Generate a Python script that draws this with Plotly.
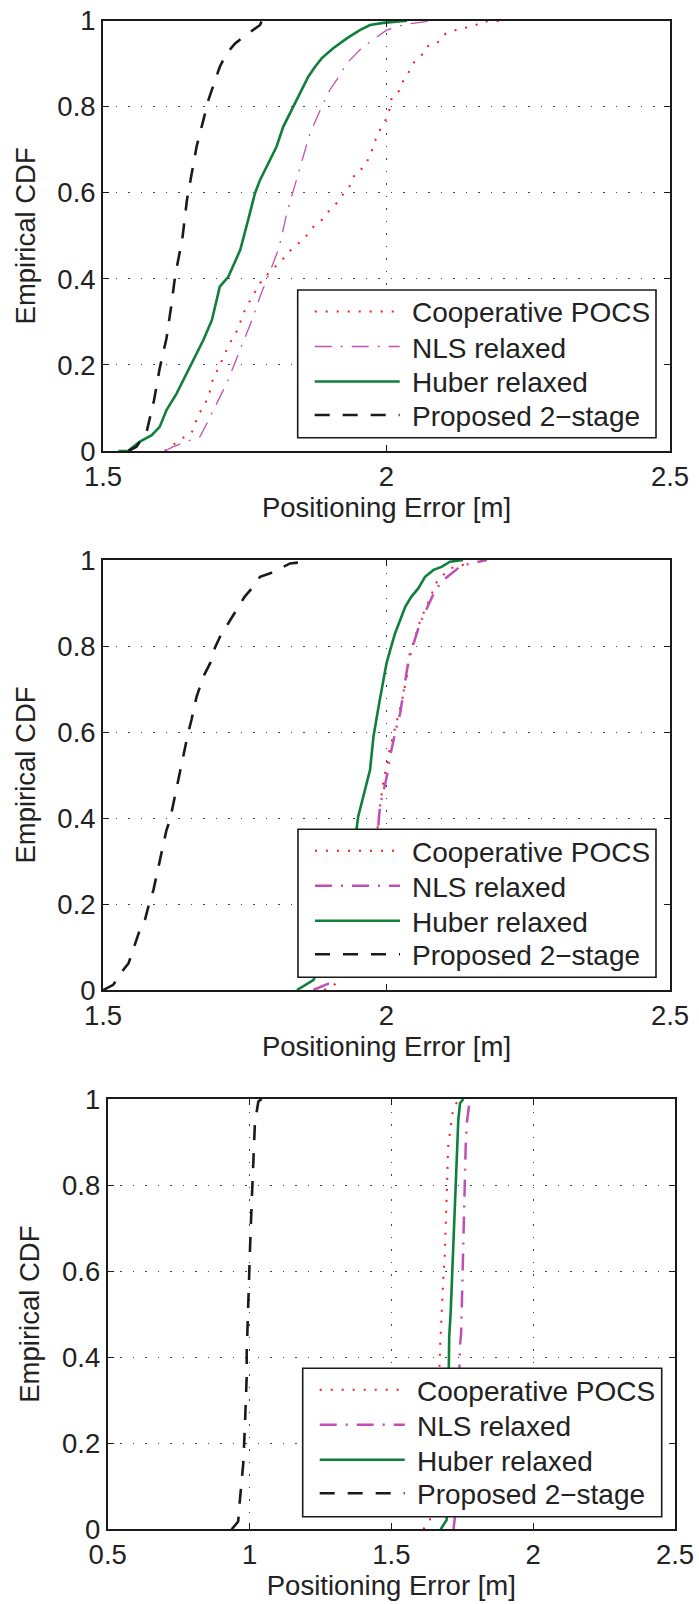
import plotly.graph_objects as go

W, H = 699, 1604

names = ["Cooperative POCS", "NLS relaxed", "Huber relaxed", "Proposed 2\u2212stage"]

# ---------------- Panel 1 ----------------
p1_pocs_x = [1.609, 1.639, 1.656, 1.668, 1.677, 1.686, 1.695, 1.706, 1.712, 1.721, 1.730, 1.739, 1.745, 1.753, 1.765, 1.777, 1.789, 1.806, 1.824, 1.836, 1.853, 1.871, 1.886, 1.900, 1.912, 1.927, 1.939, 1.944, 1.962, 1.977, 1.983, 1.992, 2.000, 2.007, 2.009, 2.024, 2.030, 2.038, 2.047, 2.062, 2.071, 2.089, 2.100, 2.115, 2.133, 2.153, 2.168, 2.212]
p1_pocs_y = [0, 0.029, 0.041, 0.084, 0.103, 0.126, 0.173, 0.196, 0.219, 0.242, 0.266, 0.285, 0.312, 0.335, 0.363, 0.390, 0.409, 0.432, 0.455, 0.475, 0.490, 0.521, 0.537, 0.560, 0.576, 0.603, 0.622, 0.645, 0.661, 0.707, 0.734, 0.754, 0.773, 0.800, 0.820, 0.839, 0.862, 0.877, 0.901, 0.920, 0.940, 0.947, 0.967, 0.975, 0.983, 0.986, 0.998, 1.0]
p1_nls_x = [1.609, 1.624, 1.648, 1.671, 1.683, 1.695, 1.706, 1.718, 1.730, 1.742, 1.753, 1.765, 1.777, 1.789, 1.800, 1.809, 1.815, 1.824, 1.836, 1.847, 1.865, 1.883, 1.900, 1.912, 1.930, 1.944, 1.956, 1.971, 1.989, 2.000, 2.024, 2.041, 2.083]
p1_nls_y = [0, 0.01, 0.022, 0.033, 0.064, 0.095, 0.126, 0.157, 0.196, 0.235, 0.273, 0.312, 0.359, 0.397, 0.436, 0.467, 0.498, 0.552, 0.607, 0.661, 0.738, 0.792, 0.839, 0.862, 0.901, 0.920, 0.936, 0.951, 0.967, 0.978, 0.988, 0.993, 1.0]
p1_huber_x = [1.527, 1.544, 1.565, 1.586, 1.600, 1.612, 1.630, 1.645, 1.659, 1.677, 1.692, 1.706, 1.721, 1.742, 1.756, 1.768, 1.777, 1.792, 1.806, 1.818, 1.830, 1.842, 1.850, 1.862, 1.874, 1.886, 1.906, 1.930, 1.953, 1.971, 1.994, 2.036]
p1_huber_y = [0, 0, 0.022, 0.037, 0.056, 0.095, 0.134, 0.173, 0.211, 0.258, 0.304, 0.382, 0.405, 0.467, 0.537, 0.599, 0.630, 0.669, 0.707, 0.754, 0.785, 0.816, 0.839, 0.870, 0.893, 0.913, 0.936, 0.959, 0.978, 0.990, 0.995, 1.0]
p1_prop_x = [1.545, 1.559, 1.577, 1.590, 1.600, 1.612, 1.621, 1.627, 1.636, 1.639, 1.648, 1.656, 1.665, 1.677, 1.686, 1.694, 1.706, 1.718, 1.733, 1.747, 1.765, 1.777, 1.780]
p1_prop_y = [0, 0.01, 0.045, 0.118, 0.192, 0.262, 0.343, 0.405, 0.467, 0.483, 0.583, 0.645, 0.707, 0.769, 0.816, 0.847, 0.893, 0.924, 0.947, 0.962, 0.978, 0.990, 1.0]

# ---------------- Panel 2 ----------------
p2_pocs_x = [1.890, 1.897, 1.912, 1.945, 1.965, 1.978, 1.986, 1.994, 2.006, 2.027, 2.036, 2.041, 2.047, 2.059, 2.074, 2.089, 2.100, 2.112, 2.130, 2.144, 2.150]
p2_pocs_y = [0, 0.004, 0.016, 0.1, 0.2, 0.3, 0.399, 0.481, 0.562, 0.671, 0.729, 0.783, 0.806, 0.857, 0.903, 0.950, 0.965, 0.981, 0.985, 0.996, 1.0]
p2_nls_x = [1.871, 1.892, 1.900, 1.940, 1.965, 1.980, 1.989, 1.994, 2.003, 2.005, 2.015, 2.024, 2.030, 2.038, 2.047, 2.059, 2.071, 2.086, 2.100, 2.118, 2.130, 2.147, 2.177]
p2_nls_y = [0, 0.012, 0.016, 0.1, 0.2, 0.3, 0.434, 0.457, 0.512, 0.535, 0.597, 0.643, 0.698, 0.760, 0.802, 0.853, 0.887, 0.930, 0.953, 0.973, 0.985, 0.992, 1.0]
p2_huber_x = [1.842, 1.853, 1.871, 1.900, 1.925, 1.940, 1.950, 1.971, 1.977, 1.986, 1.994, 2.000, 2.009, 2.015, 2.024, 2.033, 2.044, 2.056, 2.068, 2.083, 2.097, 2.112, 2.135]
p2_huber_y = [0, 0.009, 0.023, 0.1, 0.2, 0.3, 0.403, 0.512, 0.589, 0.659, 0.713, 0.760, 0.802, 0.829, 0.860, 0.891, 0.915, 0.934, 0.961, 0.977, 0.984, 0.996, 1.0]
p2_prop_x = [1.5005, 1.518, 1.536, 1.545, 1.553, 1.559, 1.565, 1.574, 1.580, 1.589, 1.598, 1.606, 1.612, 1.618, 1.624, 1.633, 1.639, 1.645, 1.650, 1.656, 1.665, 1.677, 1.689, 1.698, 1.709, 1.721, 1.736, 1.750, 1.765, 1.777, 1.795, 1.812, 1.830, 1.859, 1.862]
p2_prop_y = [0, 0.012, 0.047, 0.062, 0.093, 0.116, 0.140, 0.163, 0.194, 0.233, 0.287, 0.333, 0.372, 0.395, 0.434, 0.488, 0.527, 0.566, 0.597, 0.628, 0.682, 0.729, 0.760, 0.798, 0.829, 0.853, 0.884, 0.915, 0.938, 0.961, 0.969, 0.981, 0.992, 0.996, 1.0]

# ---------------- Panel 3 ----------------
p3_pocs_x = [1.613, 1.636, 1.655, 1.666, 1.672, 1.674, 1.678, 1.683, 1.688, 1.692, 1.695, 1.697, 1.699, 1.701, 1.707, 1.713, 1.718, 1.736]
p3_pocs_y = [0, 0.022, 0.15, 0.3, 0.428, 0.463, 0.517, 0.579, 0.634, 0.696, 0.750, 0.812, 0.866, 0.897, 0.924, 0.951, 0.978, 0.998]
p3_nls_x = [1.719, 1.728, 1.735, 1.742, 1.746, 1.750, 1.754, 1.757, 1.762, 1.766, 1.771, 1.777]
p3_nls_y = [0, 0.05, 0.25, 0.428, 0.455, 0.579, 0.696, 0.812, 0.889, 0.944, 0.974, 1.0]
p3_huber_x = [1.674, 1.695, 1.698, 1.701, 1.703, 1.704, 1.709, 1.716, 1.722, 1.728, 1.736, 1.742, 1.754]
p3_huber_y = [0, 0.022, 0.15, 0.3, 0.401, 0.448, 0.502, 0.618, 0.734, 0.851, 0.951, 0.990, 1.0]
p3_prop_x = [0.937, 0.960, 0.966, 0.978, 0.984, 0.990, 0.990, 0.992, 0.996, 1.002, 1.008, 1.013, 1.019, 1.031, 1.043]
p3_prop_y = [0, 0.018, 0.068, 0.153, 0.246, 0.355, 0.409, 0.455, 0.564, 0.657, 0.765, 0.858, 0.944, 0.994, 1.0]

# tick labels
x_ticks_12 = [1.5, 2.0, 2.5]
x_text_12 = ["1.5", "2", "2.5"]
x_ticks_3 = [0.5, 1.0, 1.5, 2.0, 2.5]
x_text_3 = ["0.5", "1", "1.5", "2", "2.5"]
y_ticks = [0, 0.2, 0.4, 0.6, 0.8, 1.0]
y_text = ["0", "0.2", "0.4", "0.6", "0.8", "1"]

x_title = "Positioning Error [m]"
y_title = "Empirical CDF"

RED = "#ff1a1a"
MAG = "#c04fb4"
GRN = "#0f7f3c"
BLK = "#1a1a1a"

FONT = "Liberation Sans, Arial, sans-serif"
TXT = "#222222"

# layout geometry in pixels: (left, right, top, bottom)
boxes = [(103, 670, 20.7, 451), (103, 670, 560, 990), (107.7, 675, 1099, 1529.3)]
# legend boxes in pixels: (left, top, right, bottom)
legboxes = [(297.7, 290, 656, 437.7), (298, 829.3, 656, 977.3), (302.7, 1368.3, 661.7, 1516.7)]
leg_line_dy = [21.5, 56.5, 91.5, 125]

panels = [
    (p1_pocs_x, p1_pocs_y, p1_nls_x, p1_nls_y, p1_huber_x, p1_huber_y, p1_prop_x, p1_prop_y),
    (p2_pocs_x, p2_pocs_y, p2_nls_x, p2_nls_y, p2_huber_x, p2_huber_y, p2_prop_x, p2_prop_y),
    (p3_pocs_x, p3_pocs_y, p3_nls_x, p3_nls_y, p3_huber_x, p3_huber_y, p3_prop_x, p3_prop_y),
]
nls_widths = [1.3, 2.5, 2.5]

fig = go.Figure()
layout = dict(width=W, height=H, margin=dict(l=0, r=0, t=0, b=0),
              paper_bgcolor="white", plot_bgcolor="white", showlegend=False)
shapes = []
annots = []

for i, pdata in enumerate(panels):
    k = "" if i == 0 else str(i + 1)
    xa, ya = "x" + k, "y" + k
    px, py, nx, ny, hx, hy, bx, by = pdata
    styles = [
        (px, py, names[0], dict(color=RED, width=2, dash="2px,9px")),
        (nx, ny, names[1], dict(color=MAG, width=nls_widths[i], dash="17px,9px,2px,9px")),
        (hx, hy, names[2], dict(color=GRN, width=2.6, dash="solid")),
        (bx, by, names[3], dict(color=BLK, width=2.6, dash="15px,13px")),
    ]
    for xs, ys, nm, ln in styles:
        fig.add_trace(go.Scatter(x=xs, y=ys, mode="lines", name=nm, line=ln,
                                 xaxis=xa, yaxis=ya, showlegend=False))
    L, R, T, B = boxes[i]
    xt = x_ticks_3 if i == 2 else x_ticks_12
    xtt = x_text_3 if i == 2 else x_text_12
    xr = [0.5, 2.5] if i == 2 else [1.5, 2.5]
    common = dict(showline=True, linecolor="#1a1a1a", linewidth=1.8, mirror="ticks",
                  ticks="inside", ticklen=6, tickwidth=1.2, tickcolor="#1a1a1a",
                  showgrid=True, gridcolor="#444444", gridwidth=1, griddash="1.5px,11px",
                  zeroline=False, automargin=False,
                  tickfont=dict(family=FONT, size=27.5, color=TXT))
    layout["xaxis" + k] = dict(common, domain=[L / W, R / W], anchor=ya, range=xr,
                               tickvals=xt, ticktext=xtt,
                               title=dict(text=x_title, font=dict(family=FONT, size=27.5, color=TXT), standoff=6))
    layout["yaxis" + k] = dict(common, domain=[1 - B / H, 1 - T / H], anchor=xa, range=[0, 1],
                               tickvals=y_ticks, ticktext=y_text,
                               title=dict(text=y_title, font=dict(family=FONT, size=27.5, color=TXT), standoff=14))

    # legend drawn in paper space
    lL, lT, lR, lB = legboxes[i]
    shapes.append(dict(type="rect", xref="paper", yref="paper", layer="above",
                       x0=lL / W, x1=lR / W, y0=1 - lB / H, y1=1 - lT / H,
                       line=dict(color="#1a1a1a", width=1.6), fillcolor="white"))
    for j, (xs, ys, nm, ln) in enumerate(styles):
        yy = 1 - (lT + leg_line_dy[j]) / H
        shapes.append(dict(type="line", xref="paper", yref="paper", layer="above",
                           x0=(lL + 17) / W, x1=(lL + 102) / W, y0=yy, y1=yy,
                           line=dict(color=ln["color"], width=ln["width"], dash=ln["dash"])))
        annots.append(dict(text=nm, xref="paper", yref="paper", showarrow=False,
                           x=(lL + 112) / W, y=1 - (lT + leg_line_dy[j] + 1.5) / H,
                           xanchor="left", yanchor="middle",
                           font=dict(family=FONT, size=28, color=TXT)))

layout["shapes"] = shapes
layout["annotations"] = annots
fig.update_layout(**layout)
fig.write_html("out.html")
